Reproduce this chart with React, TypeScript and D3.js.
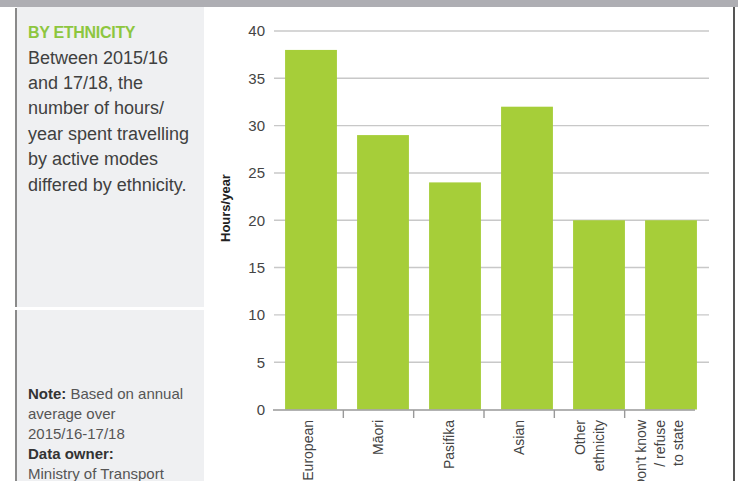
import React from "react";
import * as d3 from "d3";

const categories: string[][] = [
  ["European"],
  ["Māori"],
  ["Pasifika"],
  ["Asian"],
  ["Other", "ethnicity"],
  ["Don't know", "/ refuse", "to state"],
];
const hoursPerYear: number[] = [38, 29, 24, 32, 20, 20];
const yTicks: number[] = [0, 5, 10, 15, 20, 25, 30, 35, 40];
const titleText = "BY ETHNICITY";
const bodyLines: string[] = [
  "Between 2015/16",
  "and 17/18, the",
  "number of hours/",
  "year spent travelling",
  "by active modes",
  "differed by ethnicity.",
];
const yAxisLabel = "Hours/year";

const W = 738;
const H = 481;
const FONT = "'Liberation Sans', Arial, sans-serif";
const GREEN = "#a6ce39";
const TITLE_GREEN = "#8dc63f";

export default function App() {
  const keys = categories.map((c) => c.join(" "));
  const y = d3.scaleLinear().domain([0, 40]).range([409.5, 31]);
  const xBar = d3
    .scaleBand<string>()
    .domain(keys)
    .range([275, 707])
    .paddingInner(0.28)
    .paddingOuter(0.14);
  const xAxis = d3.scaleBand<string>().domain(keys).range([273, 695]);

  return (
    <div style={{ position: "absolute", left: 0, top: 0 }}>
      <svg width={W} height={H} style={{ display: "block" }} fontFamily={FONT}>
        <rect x={0} y={0} width={W} height={H} fill="#ffffff" />
        {/* top bar */}
        <rect x={0} y={0} width={W} height={7} fill="#aeaeb3" />
        {/* left panels */}
        <rect x={17} y={7} width={187} height={300} fill="#eff0f2" />
        <rect x={17} y={310} width={187} height={H - 310} fill="#eff0f2" />
        <rect x={15} y={8} width={2} height={299} fill="#8a8a8a" />
        <rect x={15} y={310} width={2} height={H - 310} fill="#8a8a8a" />
        {/* right border */}
        <rect x={733} y={7} width={2} height={H - 7} fill="#555555" />

        {/* left panel text */}
        <text x={28} y={38} fontSize={16} fontWeight="bold" fill={TITLE_GREEN} letterSpacing={-0.3}>
          {titleText}
        </text>
        {bodyLines.map((l, i) => (
          <text key={i} x={28} y={63.5 + i * 25.4} fontSize={18} fill="#404040">
            {l}
          </text>
        ))}
        <text x={28} y={399} fontSize={15} fill="#555">
          <tspan fontWeight="bold" fill="#333">Note:</tspan> Based on annual
        </text>
        <text x={28} y={419} fontSize={15} fill="#555">average over</text>
        <text x={28} y={439} fontSize={15} fill="#555">2015/16-17/18</text>
        <text x={28} y={459} fontSize={15} fill="#333" fontWeight="bold">Data owner:</text>
        <text x={28} y={479} fontSize={15} fill="#555">Ministry of Transport</text>

        {/* gridlines */}
        {yTicks
          .filter((t) => t > 0)
          .map((t) => (
            <line key={t} x1={274} x2={709} y1={y(t)} y2={y(t)} stroke="#c8c8c8" strokeWidth={1.4} />
          ))}
        {/* y tick labels */}
        {yTicks.map((t) => (
          <text key={t} x={265} y={y(t)} dy="0.36em" textAnchor="end" fontSize={15} fill="#444">
            {t}
          </text>
        ))}
        {/* y axis label */}
        <text
          transform={`translate(230,242) rotate(-90)`}
          fontSize={13}
          fontWeight="bold"
          fill="#222"
        >
          {yAxisLabel}
        </text>

        {/* bars */}
        {hoursPerYear.map((v, i) => (
          <rect
            key={keys[i]}
            x={xBar(keys[i])}
            y={y(v)}
            width={xBar.bandwidth()}
            height={y(0) - y(v)}
            fill={GREEN}
          />
        ))}

        {/* x axis */}
        <line x1={273} x2={695} y1={410} y2={410} stroke="#999" strokeWidth={1.4} />
        {keys.slice(1).map((k) => (
          <line key={k} x1={xAxis(k)} x2={xAxis(k)} y1={410} y2={418} stroke="#999" strokeWidth={1.4} />
        ))}
        {categories.map((lines, i) => {
          const cx = (xAxis(keys[i]) as number) + xAxis.bandwidth() / 2;
          const n = lines.length;
          return (
            <text
              key={keys[i]}
              transform={`translate(${cx},420) rotate(-90)`}
              textAnchor="end"
              fontSize={14}
              fill="#444"
            >
              {lines.map((l, j) => (
                <tspan key={j} x={0} y={(j - (n - 1) / 2) * 18.5} dy="0.35em">
                  {l}
                </tspan>
              ))}
            </text>
          );
        })}
      </svg>
    </div>
  );
}
